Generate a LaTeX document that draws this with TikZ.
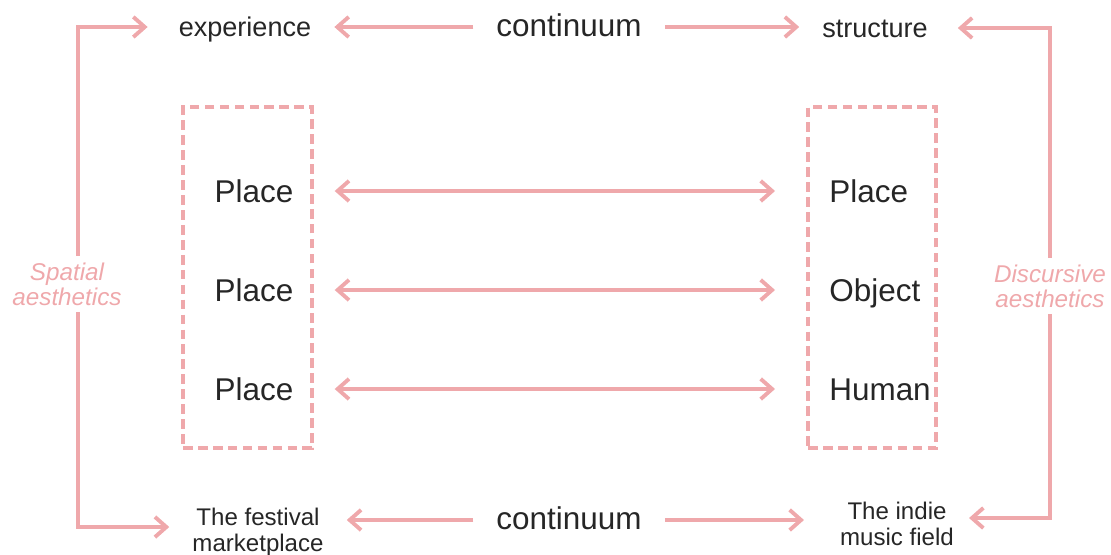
\documentclass[tikz,border=0pt]{standalone}
\usepackage{fontspec}
\setmainfont{Liberation Sans}
\usetikzlibrary{arrows.meta, positioning}
\definecolor{PinkLine}{HTML}{EFA8AB}
\definecolor{InkGray}{HTML}{262626}
\tikzset{
    % Text styles
    endlabel/.style={
        text=InkGray,
        font=\fontsize{15.4pt}{18pt}\selectfont,
        text height=13.5pt,
        text depth=2.5pt,
        inner xsep=13pt,
        inner ysep=0pt
    },
    contlabel/.style={
        endlabel,
        font=\fontsize{17.9pt}{21pt}\selectfont
    },
    rowlabel/.style={
        text=InkGray,
        font=\fontsize{17.9pt}{21pt}\selectfont,
        text height=16pt,
        text depth=2.4pt,
        inner sep=0pt
    },
    caselabel/.style={
        text=InkGray,
        font=\fontsize{13.7pt}{14.7pt}\selectfont,
        align=center,
        inner xsep=13pt,
        inner ysep=0pt
    },
    sidelabel/.style={
        text=PinkLine,
        font=\fontsize{13.8pt}{14.2pt}\selectfont\itshape,
        align=center,
        inner xsep=0pt,
        inner ysep=3.5pt
    },
    % Box style
    groupbox/.style={
        rectangle,
        draw=PinkLine,
        line width=2.5pt,
        dash pattern=on 5.5pt off 3pt,
        minimum height=6.82cm
    },
    % Arrow styles
    myarrow/.style={
        ->,
        >={Straight Barb[length=6.5pt,width=11.5pt]},
        line width=2.2pt,
        PinkLine
    },
    botharrow/.style={
        myarrow,
        <->
    }
}

\begin{document}
\begin{tikzpicture}[x=0.02cm, y=-0.02cm]
    \useasboundingbox (0,0) rectangle (1111,554);

    % Top row
    \node[endlabel] (exp) at (245,27) {experience};
    \node[contlabel] (topcont) at (569,27) {continuum};
    \node[endlabel] (struct) at (875,28) {structure};

    \draw[myarrow] (topcont.west) -- (exp.east);
    \draw[myarrow] (topcont.east) -- (topcont.east -| struct.west);

    % Dashed groups
    \node[groupbox, minimum width=2.58cm] (lbox) at (247.5,277.5) {};
    \node[groupbox, minimum width=2.56cm] (rbox) at (872,277.5) {};

    \node[rowlabel] (lp1) at (254,191) {Place};
    \node[rowlabel] (lp2) at (254,290) {Place};
    \node[rowlabel] (lp3) at (254,389) {Place};
    \node[rowlabel, anchor=west] (rp1) at (829,191) {Place};
    \node[rowlabel, anchor=west] (rp2) at (829,290) {Object};
    \node[rowlabel, anchor=west] (rp3) at (829,389) {Human};

    \draw[botharrow, shorten <=0.82cm, shorten >=1.08cm] (lp1.east) -- (rp1.west);
    \draw[botharrow, shorten <=0.82cm, shorten >=1.08cm] (lp2.east) -- (rp2.west);
    \draw[botharrow, shorten <=0.82cm, shorten >=1.08cm] (lp3.east) -- (rp3.west);

    % Side brackets
    \node[sidelabel] (spat) at (67,284) {Spatial\\aesthetics};
    \node[sidelabel] (disc) at (1050,286) {Discursive\\aesthetics};

    % Bottom row
    \node[caselabel] (fest) at (258,532) {The festival\\marketplace};
    \node[contlabel] (botcont) at (569,520) {continuum};
    \node[caselabel] (indie) at (897,524) {The indie\\music field};

    \draw[myarrow] (botcont.west) -- (botcont.west -| fest.east);
    \draw[myarrow, shorten >=0.26cm] (botcont.east) -- (botcont.east -| indie.west);

    \draw[myarrow, shorten >=0.16cm] ([xshift=0.22cm]spat.north) |- (exp.west);
    \draw[myarrow] ([xshift=0.22cm]spat.south) |- ([yshift=0.1cm]fest.west);
    \draw[myarrow, shorten >=0.14cm] (disc.north) |- (struct.east);
    \draw[myarrow, shorten >=-0.16cm] (disc.south) |- ([yshift=0.12cm]indie.east);
\end{tikzpicture}
\end{document}
